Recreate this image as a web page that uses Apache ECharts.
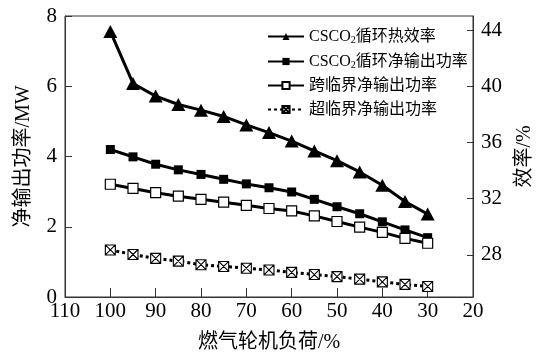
<!DOCTYPE html>
<html>
<head>
<meta charset="utf-8">
<script src="https://cdn.jsdelivr.net/npm/echarts@6/dist/echarts.min.js"></script>
<style>html,body{margin:0;padding:0;background:#fff;}#c{width:544px;height:358px;}</style>
</head>
<body>
<div id="c"></div>
<script>
const loads = [100, 95, 90, 85, 80, 75, 70, 65, 60, 55, 50, 45, 40, 35, 30];
const effCSCO2 = [43.9, 40.2, 39.3, 38.7, 38.3, 37.85, 37.25, 36.7, 36.1, 35.4, 34.7, 33.9, 32.95, 31.8, 30.9];
const powCSCO2 = [4.2, 3.99, 3.78, 3.62, 3.49, 3.35, 3.22, 3.11, 2.99, 2.78, 2.57, 2.37, 2.14, 1.91, 1.69];
const powTrans = [3.21, 3.09, 2.97, 2.87, 2.78, 2.70, 2.61, 2.52, 2.45, 2.31, 2.15, 1.99, 1.84, 1.67, 1.53];
const powSuper = [1.34, 1.21, 1.10, 1.02, 0.92, 0.87, 0.82, 0.77, 0.70, 0.64, 0.58, 0.51, 0.43, 0.36, 0.30];
const seriesNames = ['CSCO2循环热效率', 'CSCO2循环净输出功率', '跨临界净输出功率', '超临界净输出功率'];
const rightTicks = [28, 32, 36, 40, 44];

const FONT = "'Liberation Serif', 'Noto Sans CJK SC', serif";
const pair = arr => loads.map((x, i) => [x, arr[i]]);
const crossSq = 'path://M0,0L10,0L10,10L0,10Z M0,0L10,10 M10,0L0,10';

const chart = echarts.init(document.getElementById('c'), null, {renderer: 'canvas'});
chart.setOption({
  animation: false,
  backgroundColor: '#fff',
  grid: {left: 65, right: 71, top: 16, bottom: 60, show: true, borderColor: '#333', borderWidth: 1},
  legend: {
    orient: 'vertical', left: 262, top: 22,
    itemWidth: 36, itemHeight: 9, itemGap: 7,
    data: seriesNames,
    formatter: n => n.indexOf('CSCO2') === 0 ? '{n|CSCO}{sub|2}{n|' + n.slice(5) + '}' : n,
    textStyle: {
      fontFamily: FONT, fontSize: 16, color: '#000', lineHeight: 17,
      rich: {
        n: {fontFamily: FONT, fontSize: 16, color: '#000', lineHeight: 17},
        sub: {fontFamily: FONT, fontSize: 10, color: '#000', verticalAlign: 'bottom', padding: [8, 0, 0, 0], lineHeight: 17}
      }
    }
  },
  xAxis: {
    type: 'value', inverse: true, min: 20, max: 110, interval: 10,
    name: '燃气轮机负荷/%', nameLocation: 'middle', nameGap: 36,
    nameTextStyle: {fontFamily: FONT, fontSize: 20, color: '#000'},
    axisLine: {lineStyle: {color: '#333', width: 1}},
    axisTick: {inside: true, length: 9, lineStyle: {color: '#333'}},
    axisLabel: {fontFamily: FONT, fontSize: 21, color: '#000', margin: 4},
    splitLine: {show: false}
  },
  yAxis: [{
    type: 'value', min: 0, max: 8, interval: 2, position: 'left',
    name: '净输出功率/MW', nameLocation: 'middle', nameGap: 31, nameRotate: 90,
    nameTextStyle: {fontFamily: FONT, fontSize: 20, color: '#000'},
    axisLine: {show: true, lineStyle: {color: '#333', width: 1}},
    axisTick: {show: true, inside: true, length: 7, lineStyle: {color: '#333'}},
    axisLabel: {fontFamily: FONT, fontSize: 21, color: '#000', margin: 8},
    splitLine: {show: false}
  }, {
    type: 'value', min: 25, max: 45, position: 'right',
    name: '效率/%', nameLocation: 'middle', nameGap: 42, nameRotate: 90,
    nameTextStyle: {fontFamily: FONT, fontSize: 20, color: '#000'},
    axisLine: {show: true, lineStyle: {color: '#333', width: 1}},
    axisTick: {show: true, inside: true, length: 6, customValues: rightTicks, lineStyle: {color: '#333'}},
    axisLabel: {fontFamily: FONT, fontSize: 21, color: '#000', margin: 8, customValues: rightTicks},
    splitLine: {show: false}
  }],
  series: [{
    name: seriesNames[0], type: 'line', yAxisIndex: 1, data: pair(effCSCO2),
    symbol: 'triangle', symbolSize: [14, 13],
    lineStyle: {color: '#000', width: 3}, itemStyle: {color: '#000'}
  }, {
    name: seriesNames[1], type: 'line', yAxisIndex: 0, data: pair(powCSCO2),
    symbol: 'rect', symbolSize: 9,
    lineStyle: {color: '#000', width: 3}, itemStyle: {color: '#000'}
  }, {
    name: seriesNames[2], type: 'line', yAxisIndex: 0, data: pair(powTrans),
    symbol: 'rect', symbolSize: 10,
    lineStyle: {color: '#000', width: 3}, itemStyle: {color: '#fff', borderColor: '#000', borderWidth: 1.2}
  }, {
    name: seriesNames[3], type: 'line', yAxisIndex: 0, data: pair(powSuper),
    symbol: crossSq, symbolSize: 10, symbolKeepAspect: true,
    lineStyle: {color: '#000', width: 3, type: [3, 3]}, itemStyle: {color: '#fff', borderColor: '#000', borderWidth: 1.1}
  }]
});
</script>
</body>
</html>
